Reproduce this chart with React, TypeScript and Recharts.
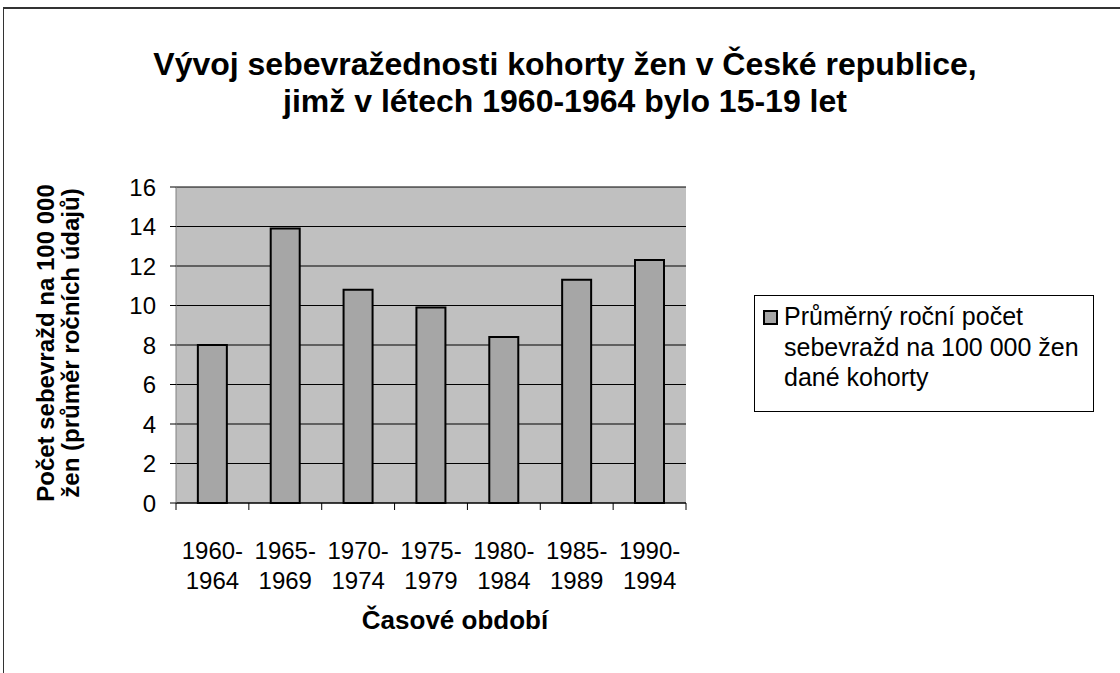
import { BarChart, Bar, XAxis, YAxis, CartesianGrid } from "recharts";

const periods = ["1960-1964", "1965-1969", "1970-1974", "1975-1979", "1980-1984", "1985-1989", "1990-1994"];
const rates = [8.0, 13.9, 10.8, 9.9, 8.4, 11.3, 12.3];
const yTicks = [0, 2, 4, 6, 8, 10, 12, 14, 16];
const titleLines = ["Vývoj sebevražednosti kohorty žen v České republice,", "jimž v létech 1960-1964 bylo 15-19 let"];
const yLabelLines = ["Počet sebevražd na 100 000", "žen (průměr ročních údajů)"];
const xLabel = "Časové období";
const seriesName = "Průměrný roční počet sebevražd na 100 000 žen dané kohorty";

const data = periods.map((p, i) => ({ period: p, value: rates[i] }));

const FONT = "Arial, 'Liberation Sans', sans-serif";
const PLOT_LEFT = 176;
const PLOT_RIGHT = 686;
const PLOT_TOP = 187;
const PLOT_BOTTOM = 503;
const BAND = (PLOT_RIGHT - PLOT_LEFT) / periods.length;

function PeriodTick(props: any) {
  const { x, payload, index } = props;
  const [a, b] = String(payload.value).split("-");
  const y0 = PLOT_BOTTOM;
  return (
    <g>
      <line x1={x - BAND / 2} x2={x - BAND / 2} y1={y0} y2={y0 + 7} stroke="#000" />
      {index === periods.length - 1 && (
        <line x1={x + BAND / 2} x2={x + BAND / 2} y1={y0} y2={y0 + 7} stroke="#000" />
      )}
      <text x={x} y={y0 + 56} textAnchor="middle" fontSize={24} fontFamily={FONT} fill="#000">
        {a + "-"}
      </text>
      <text x={x} y={y0 + 86} textAnchor="middle" fontSize={24} fontFamily={FONT} fill="#000">
        {b}
      </text>
    </g>
  );
}

function LegendBox() {
  return (
    <div
      style={{
        position: "absolute",
        left: 754,
        top: 295,
        border: "1px solid #000",
        background: "#fff",
        width: 340,
        height: 117,
        boxSizing: "border-box",
        padding: "5px 0 0 8px",
        display: "flex",
        fontFamily: FONT,
        fontSize: 25,
        lineHeight: "30.5px",
        color: "#000",
      }}
    >
      <div
        style={{
          width: 11,
          height: 11,
          background: "#A6A6A6",
          border: "2px solid #000",
          marginTop: 9,
          marginRight: 6,
          flexShrink: 0,
        }}
      />
      <div style={{ width: 315 }}>{seriesName}</div>
    </div>
  );
}

export default function App() {
  return (
    <div style={{ position: "absolute", left: 0, top: 0, width: 1120, height: 673, background: "#fff", overflow: "hidden" }}>
      <div
        style={{
          position: "absolute",
          left: 3,
          top: 7,
          width: 1200,
          height: 700,
          borderTop: "2px solid #333",
          borderLeft: "1px solid #333",
        }}
      />
      <div
        style={{
          position: "absolute",
          left: 0,
          top: 46,
          width: 1130,
          textAlign: "center",
          fontFamily: FONT,
          fontWeight: "bold",
          fontSize: 32,
          lineHeight: "37px",
          color: "#000",
        }}
      >
        {titleLines.map((t) => (
          <div key={t}>{t}</div>
        ))}
      </div>
      <div style={{ position: "absolute", left: 0, top: 0 }}>
        <BarChart
          width={1120}
          height={673}
          data={data}
          margin={{ top: PLOT_TOP, right: 1120 - PLOT_RIGHT, bottom: 0, left: PLOT_LEFT - 70 }}
          barCategoryGap="30%"
        >
          <CartesianGrid vertical={false} stroke="#000" fill="#C0C0C0" fillOpacity={1} />
          <XAxis
            dataKey="period"
            height={673 - PLOT_BOTTOM}
            interval={0}
            tickLine={false}
            axisLine={{ stroke: "#000", strokeWidth: 1 }}
            tick={<PeriodTick />}
            label={{
              content: () => (
                <text x={455} y={629} textAnchor="middle" fontSize={26} fontWeight="bold" fontFamily={FONT} fill="#000">
                  {xLabel}
                </text>
              ),
            }}
          />
          <YAxis
            width={70}
            domain={[0, 16]}
            ticks={yTicks}
            interval={0}
            tickSize={6}
            tickMargin={14}
            tickLine={{ stroke: "#000" }}
            axisLine={{ stroke: "#808080" }}
            tick={{ fontSize: 24, fontFamily: FONT, fill: "#000" }}
            label={{
              content: () => (
                <g>
                  {yLabelLines.map((t, i) => (
                    <text
                      key={t}
                      x={0}
                      y={0}
                      transform={`translate(${54 + i * 25}, 343) rotate(-90)`}
                      textAnchor="middle"
                      fontSize={24}
                      fontWeight="bold"
                      fontFamily={FONT}
                      fill="#000"
                    >
                      {t}
                    </text>
                  ))}
                </g>
              ),
            }}
          />
          <YAxis
            yAxisId="right"
            orientation="right"
            width={0}
            tick={false}
            tickLine={false}
            axisLine={{ stroke: "#808080" }}
          />
          <Bar
            dataKey="value"
            name={seriesName}
            fill="#A6A6A6"
            stroke="#000"
            strokeWidth={2}
            isAnimationActive={false}
          />
        </BarChart>
      </div>
      <LegendBox />
    </div>
  );
}
